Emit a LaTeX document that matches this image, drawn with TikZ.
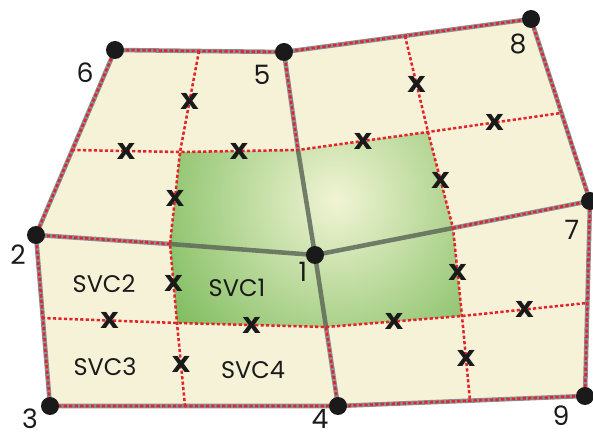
\documentclass[tikz,border=0pt]{standalone}
\usepackage{fontspec}
\setmainfont{Poppins}
\newfontfamily\markfont{DejaVu Sans}
\usetikzlibrary{calc,backgrounds}
\definecolor{cream}{HTML}{F6F2D8}
\definecolor{leaf}{HTML}{72B651}
\definecolor{pale}{HTML}{F1F4D4}
\definecolor{rimgray}{HTML}{8C8C92}
\definecolor{spoke}{HTML}{5E6A5A}
\definecolor{dotred}{HTML}{E2242B}
\definecolor{ink}{HTML}{1A1A1A}

\tikzset{
  pt/.style={circle,fill=ink,inner sep=0pt,minimum size=13.5pt},
  num/.style={font=\fontsize{20}{20}\selectfont,text=ink,inner sep=0pt},
  svc/.style={font=\fontsize{18}{18}\selectfont,text=ink,inner sep=0pt},
  ip/.style={font=\markfont\bfseries\fontsize{22}{22}\selectfont,text=ink,inner sep=0pt},
  rim/.style={rimgray,line width=3.4pt,line join=round},
  reddots/.style={dotred,line width=1.9pt,dash pattern=on 2.4pt off 1.7pt},
}

\begin{document}
\begin{tikzpicture}[x=0.75pt,y=-0.75pt]
  \useasboundingbox (0,0) rectangle (593,438);
  \node[pt] (n1) at (315,255) {};
  \node[pt] (n2) at (36,235) {};
  \node[pt] (n3) at (50,406) {};
  \node[pt] (n4) at (338,406) {};
  \node[pt] (n5) at (284,52) {};
  \node[pt] (n6) at (115,50) {};
  \node[pt] (n7) at (590,201) {};
  \node[pt] (n8) at (531,19) {};
  \node[pt] (n9) at (585,396) {};

  \node[num] (lab1) at (303,272) {1};
  \node[num] (lab2) at (18,255) {2};
  \node[num] (lab3) at (30,419) {3};
  \node[num] (lab4) at (320,419) {4};
  \node[num] (lab5) at (262,75) {5};
  \node[num] (lab6) at (85,73) {6};
  \node[num] (lab7) at (572,230) {7};
  \node[num] (lab8) at (518,44) {8};
  \node[num] (lab9) at (561,416) {9};

  \node[svc] (svc1) at (237,288) {SVC1};
  \node[svc] (svc2) at (104,284) {SVC2};
  \node[svc] (svc3) at (105,367) {SVC3};
  \node[svc] (svc4) at (253,370) {SVC4};

  \coordinate (e21) at (170,244);
  \coordinate (e51) at (298,150);
  \coordinate (e71) at (453,228);
  \coordinate (e41) at (326,327);
  \coordinate (e62) at (72,150);
  \coordinate (e65) at (199,51);
  \coordinate (e58) at (405,36);
  \coordinate (e87) at (561,113);
  \coordinate (e79) at (587,303);
  \coordinate (e94) at (470,401);
  \coordinate (e43) at (185,406);
  \coordinate (e32) at (42,318);
  \coordinate (ca) at (180,152);
  \coordinate (cb) at (428,132);
  \coordinate (cc) at (462,316);
  \coordinate (cd) at (177,323);

  \foreach \a/\b [count=\k] in {e65/ca,e62/ca,ca/e51,ca/e21,e58/cb,cb/e87,e51/cb,cb/e71,
      e21/cd,e32/cd,cd/e41,cd/e43,e71/cc,cc/e79,e41/cc,cc/e94}
    \node[ip] (ipt\k) at ($(\a)!0.5!(\b)$) {x};

  \begin{scope}[on background layer]
    \fill[cream] (n6.center) -- (n5.center) -- (n8.center) -- (n7.center) -- (n9.center)
      -- (n4.center) -- (n3.center) -- (n2.center) -- cycle;
    \begin{scope}
      \clip (ca) -- (e51) -- (cb) -- (e71) -- (cc) -- (e41) -- (cd) -- (e21) -- cycle;
      \shade[inner color=pale,outer color=leaf] (336,200) circle (225);
    \end{scope}
    \draw[rim] (n6.center) -- (n5.center) -- (n8.center) -- (n7.center) -- (n9.center)
      -- (n4.center) -- (n3.center) -- (n2.center) -- cycle;
    \foreach \n/\m in {n2/e21,n5/e51,n7/e71,n4/e41}{
      \draw[rim] (\n.center) -- (\m);
      \draw[spoke,line width=3.4pt,opacity=0.85] (\m) -- (n1.center);
      \draw[reddots] (\n.center) -- (\m);
    }
    \draw[reddots] (n6.center) -- (n5.center) -- (n8.center) -- (n7.center) -- (n9.center)
      -- (n4.center) -- (n3.center) -- (n2.center) -- cycle;
    \draw[reddots] (e62) -- (ca) -- (e51) -- (cb) -- (e87);
    \draw[reddots] (e32) -- (cd) -- (e41) -- (cc) -- (e79);
    \draw[reddots] (e65) -- (ca) -- (e21) -- (cd) -- (e43);
    \draw[reddots] (e58) -- (cb) -- (e71) -- (cc) -- (e94);
  \end{scope}
\end{tikzpicture}
\end{document}
